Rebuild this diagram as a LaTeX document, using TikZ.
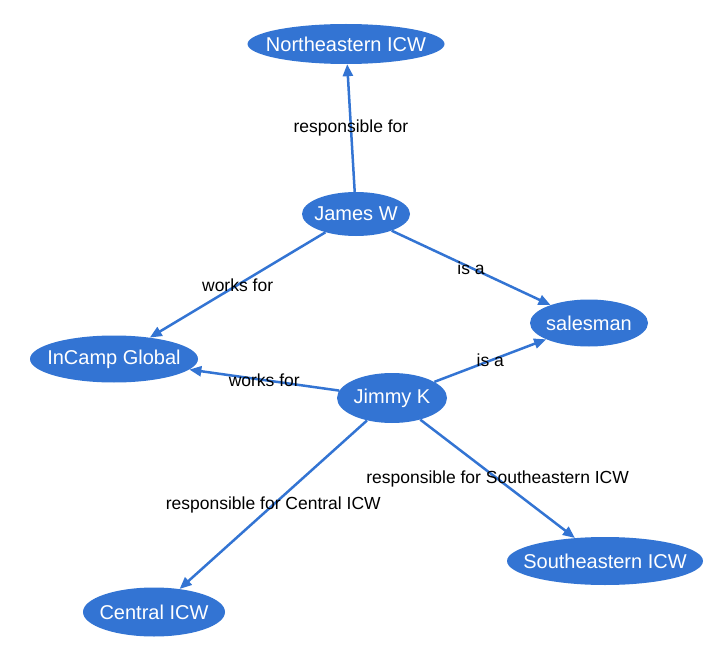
\documentclass[tikz,border=0pt]{standalone}
\usepackage{fontspec}
\setmainfont{Liberation Sans}
\usetikzlibrary{shapes.geometric,arrows.meta}
\definecolor{entblue}{RGB}{51,116,211}

\begin{document}
\begin{tikzpicture}[x=1pt, y=-1pt,
	% Define the style for the nodes and the edges
	entity/.style={ellipse, fill=entblue, text=white, inner xsep=-20pt, inner ysep=0pt,
		font=\fontsize{20}{24}\selectfont},
	rel/.style={draw=entblue, line width=2.5pt, -{Triangle[length=12pt, width=10pt]}},
	lbl/.style={midway, text=black, inner sep=0pt, font=\fontsize{17.5}{21}\selectfont}
	]
	
	\useasboundingbox (0,0) rectangle (718,650);
	
	% --- VERTICES ---
	% Format: \node (internal_name) at (x,y) [size] {text};
	
	\node (ne)      at (346, 44)  [entity, minimum width=197pt, minimum height=40pt] {Northeastern ICW};
	\node (james)   at (356, 214) [entity, minimum width=108pt, minimum height=44pt] {James W};
	\node (sales)   at (589, 323) [entity, minimum width=118pt, minimum height=47pt] {salesman};
	\node (incamp)  at (114, 359) [entity, minimum width=168pt, minimum height=47pt] {InCamp Global};
	\node (jimmy)   at (392, 398) [entity, minimum width=110pt, minimum height=50pt] {Jimmy K};
	\node (se)      at (605, 561) [entity, minimum width=196pt, minimum height=48pt] {Southeastern ICW};
	\node (central) at (154, 612) [entity, minimum width=142pt, minimum height=49pt] {Central ICW};
	
	% --- EDGES ---
	
	\draw[rel] (james) -- node[lbl] {responsible for} (ne); % James up
	\draw[rel] (james) -- node[lbl] {works for} (incamp);
	\draw[rel] (james) -- node[lbl] {is a} (sales);
	\draw[rel] (jimmy) -- node[lbl] {works for} (incamp);
	\draw[rel] (jimmy) -- node[lbl] {is a} (sales);
	\draw[rel] (jimmy) -- node[lbl] {responsible for Central ICW} (central);
	\draw[rel] (jimmy) -- node[lbl] {responsible for Southeastern ICW} (se);
	
\end{tikzpicture}
\end{document}
